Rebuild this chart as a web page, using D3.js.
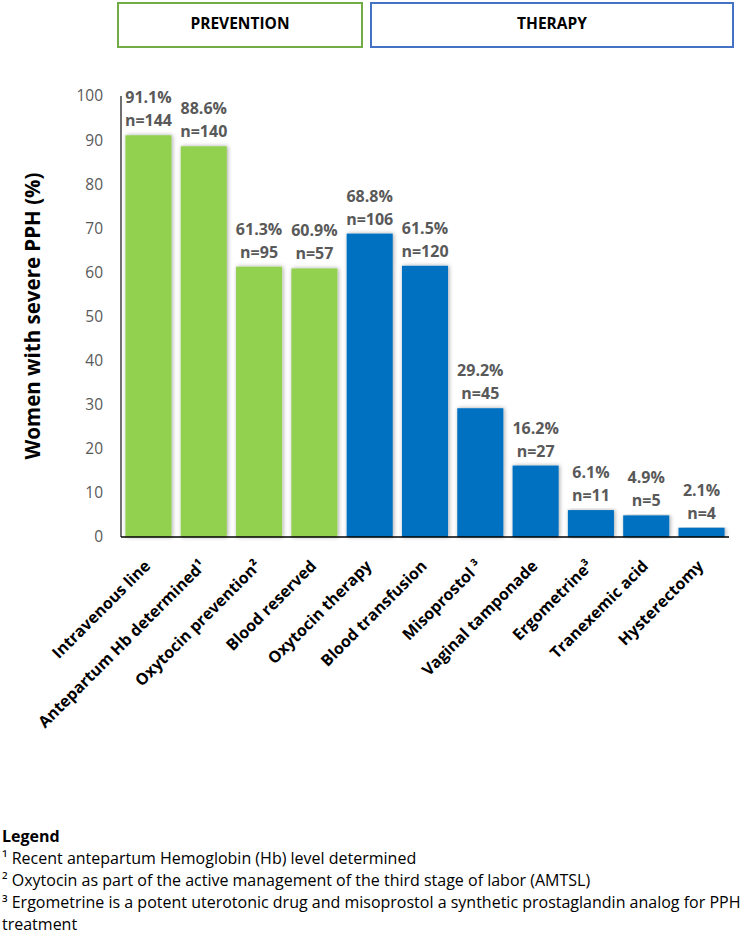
<!DOCTYPE html>
<html>
<head>
<meta charset="utf-8">
<script src="https://cdn.jsdelivr.net/npm/d3@7"></script>
<style>
  html, body { margin: 0; padding: 0; background: #fff; }
  svg { display: block; font-family: "Open Sans", Lato, sans-serif; }
</style>
</head>
<body>
<svg id="chart" width="740" height="935"></svg>
<script>
const categories = ["Intravenous line", "Antepartum Hb determined¹", "Oxytocin prevention²", "Blood reserved",
  "Oxytocin therapy", "Blood transfusion", "Misoprostol ³", "Vaginal tamponade", "Ergometrine³",
  "Tranexemic acid", "Hysterectomy"];
const percentValues = [91.1, 88.6, 61.3, 60.9, 68.8, 61.5, 29.2, 16.2, 6.1, 4.9, 2.1];
const nValues = [144, 140, 95, 57, 106, 120, 45, 27, 11, 5, 4];
const groups = ["prevention", "prevention", "prevention", "prevention", "therapy", "therapy",
  "therapy", "therapy", "therapy", "therapy", "therapy"];
const yTicks = [0, 10, 20, 30, 40, 50, 60, 70, 80, 90, 100];
const headerLabels = ["PREVENTION", "THERAPY"];
const yAxisTitle = "Women with severe PPH (%)";
const legendLines = [
  "Legend",
  "¹ Recent antepartum Hemoglobin (Hb) level determined",
  "² Oxytocin as part of the active management of the third stage of labor (AMTSL)",
  "³ Ergometrine is a potent uterotonic drug and misoprostol a synthetic prostaglandin analog for PPH",
  "treatment"
];

const data = categories.map((c, i) => ({ cat: c, v: percentValues[i], n: nValues[i], g: groups[i] }));

const svg = d3.select("#chart");
const fill = { prevention: "#92D050", therapy: "#0070C0" };

const x = d3.scaleBand().domain(categories).range([121, 729]).paddingInner(0.167).paddingOuter(0.08);
const y = d3.scaleLinear().domain([0, 100]).range([537, 96]);

// shadow filter
const defs = svg.append("defs");
const f = defs.append("filter").attr("id", "shadow").attr("x", "-20%").attr("y", "-5%").attr("width", "140%").attr("height", "110%");
f.append("feDropShadow").attr("dx", 1).attr("dy", 0).attr("stdDeviation", 2).attr("flood-color", "#000").attr("flood-opacity", 0.35);

// header boxes
const headerBoxes = [
  { label: headerLabels[0], x0: 118, x1: 362, stroke: "#70AD47" },
  { label: headerLabels[1], x0: 371, x1: 733, stroke: "#4472C4" }
];
const hb = svg.append("g").selectAll("g").data(headerBoxes).join("g");
hb.append("rect").attr("x", d => d.x0).attr("y", 3).attr("width", d => d.x1 - d.x0).attr("height", 44)
  .attr("fill", "#fff").attr("stroke", d => d.stroke).attr("stroke-width", 2);
hb.append("text").attr("x", d => (d.x0 + d.x1) / 2).attr("y", 24).attr("dy", "0.35em")
  .attr("text-anchor", "middle").attr("font-weight", "bold").attr("font-size", 15.5).attr("fill", "#000")
  .text(d => d.label);

// bars
svg.append("g").selectAll("rect").data(data).join("rect")
  .attr("x", d => x(d.cat)).attr("width", x.bandwidth())
  .attr("y", d => y(d.v)).attr("height", d => y(0) - y(d.v))
  .attr("fill", d => fill[d.g]).attr("filter", "url(#shadow)");

// y axis
const yAxis = svg.append("g").attr("transform", "translate(121,0)")
  .call(d3.axisLeft(y).tickValues(yTicks).tickSize(0).tickPadding(18).tickFormat(d3.format("d")));
yAxis.select(".domain").attr("stroke", "#404040").attr("stroke-width", 1.5).attr("d", `M0,${y(100)}V${y(0)}`);
yAxis.selectAll("text").attr("font-size", 15.5).attr("fill", "#595959").attr("font-family", "'Open Sans', sans-serif");

// x axis
const xAxis = svg.append("g").attr("transform", `translate(0,${y(0)})`)
  .call(d3.axisBottom(x).tickSize(0).tickFormat(""));
xAxis.select(".domain").attr("stroke", "#000").attr("stroke-width", 1.5).attr("d", "M121,0H729");

// x labels
svg.append("g").selectAll("text").data(data).join("text")
  .attr("transform", d => `translate(${x(d.cat) + x.bandwidth() / 2 - 1},563) rotate(-45)`)
  .attr("text-anchor", "end").attr("dy", "0.35em")
  .attr("font-size", 16).attr("font-weight", "bold").attr("fill", "#000")
  .text(d => d.cat);

// value labels
const vl = svg.append("g").selectAll("g").data(data).join("g");
vl.append("text").attr("x", d => x(d.cat) + x.bandwidth() / 2).attr("y", d => y(d.v) - 32)
  .attr("text-anchor", "middle").attr("font-size", 16).attr("font-weight", "bold").attr("fill", "#595959")
  .text(d => d.v.toFixed(1) + "%");
vl.append("text").attr("x", d => x(d.cat) + x.bandwidth() / 2).attr("y", d => y(d.v) - 9)
  .attr("text-anchor", "middle").attr("font-size", 16).attr("font-weight", "bold").attr("fill", "#595959")
  .text(d => "n=" + d.n);

// y axis title
svg.append("text").attr("transform", "translate(40,316) rotate(-90)")
  .attr("text-anchor", "middle").attr("font-size", 20.5).attr("font-weight", "bold").attr("fill", "#000")
  .text(yAxisTitle);

// legend
svg.append("g").selectAll("text").data(legendLines).join("text")
  .attr("x", 2).attr("y", (d, i) => 842 + i * 22)
  .attr("font-size", 16).attr("font-weight", (d, i) => i === 0 ? "bold" : "normal").attr("fill", "#000")
  .text(d => d);
</script>
</body>
</html>
